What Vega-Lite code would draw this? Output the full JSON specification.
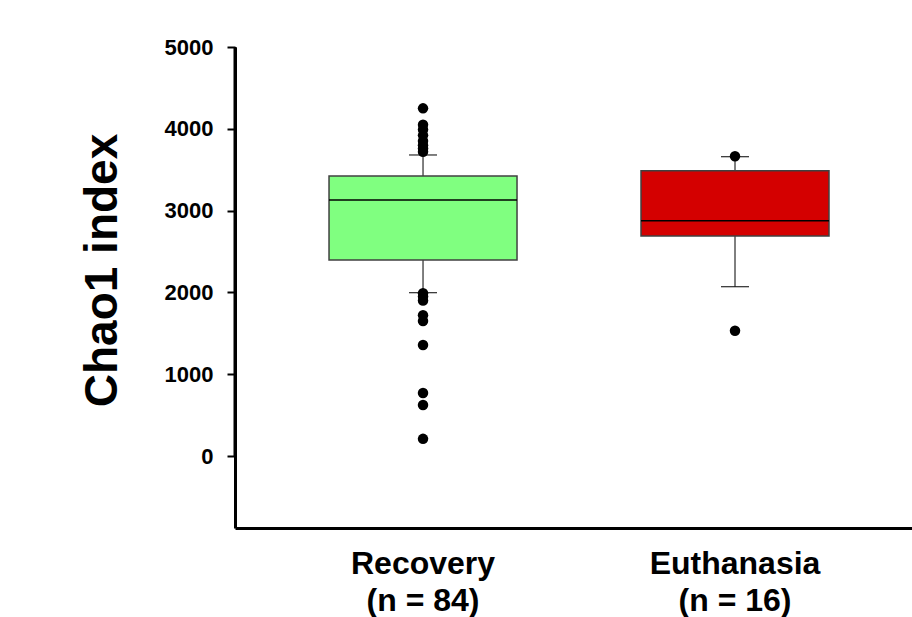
{
  "$schema": "https://vega.github.io/schema/vega-lite/v6.json",
  "width": 677,
  "height": 481,
  "autosize": {"type": "none"},
  "padding": {"left": 235, "top": 47, "right": 0, "bottom": 89},
  "background": "white",
  "config": {
    "view": {"stroke": null},
    "font": "Liberation Sans"
  },
  "datasets": {
    "summary": [
      {"group": "Recovery", "q1": 2396, "median": 3130, "q3": 3423, "lo": 1996, "hi": 3680},
      {"group": "Euthanasia", "q1": 2690, "median": 2877, "q3": 3488, "lo": 2070, "hi": 3659}
    ],
    "outliers": [
      {"group": "Recovery", "value": 4250},
      {"group": "Recovery", "value": 4050},
      {"group": "Recovery", "value": 3990},
      {"group": "Recovery", "value": 3920},
      {"group": "Recovery", "value": 3850},
      {"group": "Recovery", "value": 3800},
      {"group": "Recovery", "value": 3760},
      {"group": "Recovery", "value": 3720},
      {"group": "Recovery", "value": 1990},
      {"group": "Recovery", "value": 1950},
      {"group": "Recovery", "value": 1900},
      {"group": "Recovery", "value": 1720},
      {"group": "Recovery", "value": 1650},
      {"group": "Recovery", "value": 1357},
      {"group": "Recovery", "value": 770},
      {"group": "Recovery", "value": 623},
      {"group": "Recovery", "value": 210},
      {"group": "Euthanasia", "value": 3665},
      {"group": "Euthanasia", "value": 1532}
    ]
  },
  "encoding": {
    "x": {
      "field": "group",
      "type": "nominal",
      "scale": {"domain": ["Recovery", "Euthanasia"], "paddingInner": 0.4, "paddingOuter": 0.285, "align": 0.531},
      "axis": {
        "title": null,
        "domainColor": "black",
        "domainWidth": 3,
        "ticks": false,
        "labelAngle": 0,
        "labelFont": "Liberation Sans",
        "labelFontWeight": "bold",
        "labelFontSize": 32,
        "labelColor": "black",
        "labelPadding": 20,
        "labelLineHeight": 37,
        "labelLimit": 0,
        "labelBaseline": "top",
        "labelExpr": "datum.value == 'Recovery' ? ['Recovery', '(n = 84)'] : ['Euthanasia', '(n = 16)']"
      }
    }
  },
  "layer": [
    {
      "data": {"name": "summary"},
      "mark": {"type": "rule", "color": "black", "strokeWidth": 1},
      "encoding": {
        "y": {
          "field": "lo",
          "type": "quantitative",
          "scale": {"domain": [-880, 5000], "nice": false, "zero": false},
          "axis": {
            "title": "Chao1 index",
            "values": [0, 1000, 2000, 3000, 4000, 5000],
            "format": "d",
            "grid": false,
            "domainColor": "black",
            "domainWidth": 3,
            "tickColor": "black",
            "tickWidth": 2,
            "tickSize": 8,
            "labelFont": "Liberation Sans",
            "labelFontWeight": "bold",
            "labelFontSize": 22,
            "labelColor": "black",
            "labelPadding": 14,
            "titleFont": "Liberation Sans",
            "titleFontWeight": "bold",
            "titleFontSize": 46,
            "titleColor": "black",
            "titlePadding": 38,
            "titleY": 223
          }
        },
        "y2": {"field": "hi"}
      }
    },
    {
      "data": {"name": "summary"},
      "mark": {"type": "bar", "width": 188, "stroke": "#404040", "strokeWidth": 1.5},
      "encoding": {
        "y": {"field": "q1", "type": "quantitative"},
        "y2": {"field": "q3"},
        "fill": {
          "field": "group",
          "type": "nominal",
          "scale": {"domain": ["Recovery", "Euthanasia"], "range": ["#80FF80", "#D40000"]},
          "legend": null
        }
      }
    },
    {
      "data": {"name": "summary"},
      "mark": {"type": "tick", "size": 188, "thickness": 1.5, "color": "black", "opacity": 1},
      "encoding": {
        "y": {"field": "median", "type": "quantitative"}
      }
    },
    {
      "data": {"name": "summary"},
      "mark": {"type": "tick", "size": 28, "thickness": 1, "color": "black", "opacity": 1},
      "encoding": {
        "y": {"field": "lo", "type": "quantitative"}
      }
    },
    {
      "data": {"name": "summary"},
      "mark": {"type": "tick", "size": 28, "thickness": 1, "color": "black", "opacity": 1},
      "encoding": {
        "y": {"field": "hi", "type": "quantitative"}
      }
    },
    {
      "data": {"name": "outliers"},
      "mark": {"type": "circle", "size": 110, "color": "black", "opacity": 1},
      "encoding": {
        "y": {"field": "value", "type": "quantitative"}
      }
    },
    {
      "data": {"values": [{"top": 5000}]},
      "mark": {"type": "rule", "color": "black", "strokeWidth": 3},
      "encoding": {
        "y": {"field": "top", "type": "quantitative"}
      }
    }
  ]
}
